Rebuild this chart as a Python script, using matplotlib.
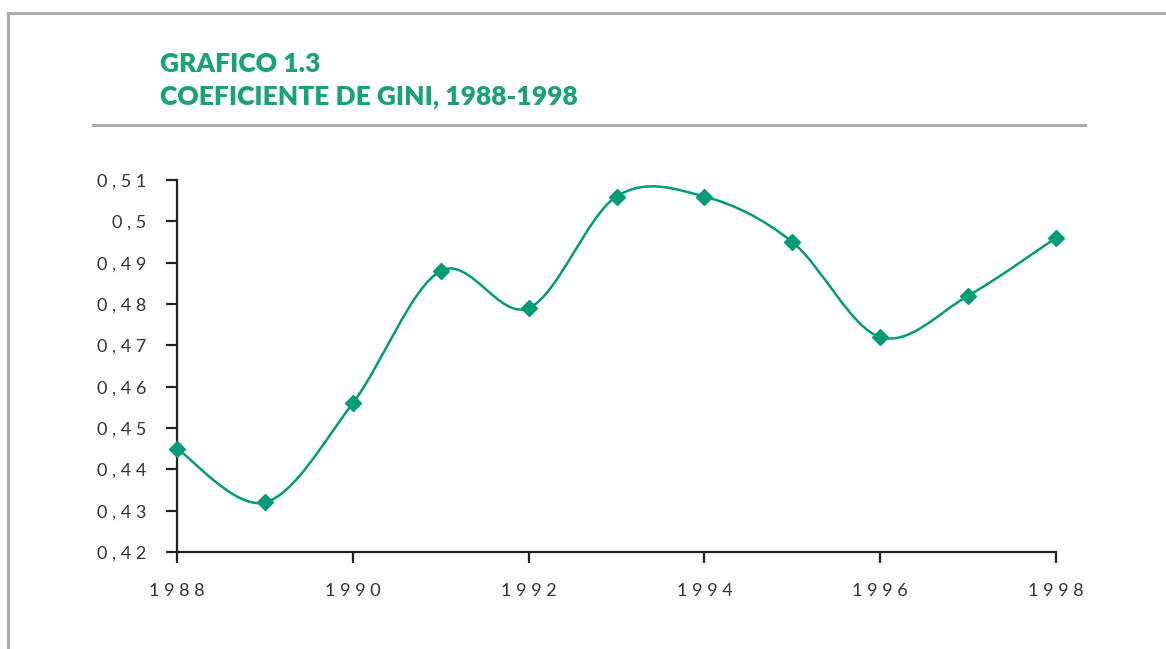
import matplotlib.pyplot as plt
from matplotlib.path import Path
from matplotlib.patches import PathPatch
from matplotlib.lines import Line2D
import numpy as np

years = [1988, 1989, 1990, 1991, 1992, 1993, 1994, 1995, 1996, 1997, 1998]
gini = [0.445, 0.432, 0.456, 0.488, 0.479, 0.506, 0.506, 0.495, 0.472, 0.482, 0.496]
x_ticks = [1988, 1990, 1992, 1994, 1996, 1998]
y_ticks = [0.42, 0.43, 0.44, 0.45, 0.46, 0.47, 0.48, 0.49, 0.50, 0.51]
y_labels = ["0,42", "0,43", "0,44", "0,45", "0,46", "0,47", "0,48", "0,49", "0,5", "0,51"]

title1 = "GRAFICO 1.3"
title2 = "COEFICIENTE DE GINI, 1988-1998"

GREEN = "#009b77"
TITLE_GREEN = "#18a472"
FRAME = "#ababab"


def spaced(s):
    # wide letter spacing as in the printed original
    return " ".join(s)


def smooth_path(xs, ys):
    # Excel-like smoothed line: cubic Bezier through every point
    pts = np.column_stack([xs, ys]).astype(float)
    n = len(pts)
    verts = [pts[0]]
    codes = [Path.MOVETO]
    for i in range(n - 1):
        p0 = pts[max(i - 1, 0)]
        p1 = pts[i]
        p2 = pts[i + 1]
        p3 = pts[min(i + 2, n - 1)]
        c1 = p1 + (p2 - p0) / 6.0
        c2 = p2 - (p3 - p1) / 6.0
        verts += [c1, c2, p2]
        codes += [Path.CURVE4] * 3
    return Path(verts, codes)


fig = plt.figure(figsize=(11.66, 6.49), dpi=100)

# outer frame (top and left edges)
fig.add_artist(Line2D([8 / 1166, 1], [1 - 13 / 649] * 2, color=FRAME, lw=2.2,
                      transform=fig.transFigure))
fig.add_artist(Line2D([8 / 1166] * 2, [0, 1 - 13 / 649], color=FRAME, lw=2.2,
                      transform=fig.transFigure))
# rule under the title
fig.add_artist(Line2D([93 / 1166, 1085 / 1166], [1 - 125 / 649] * 2, color=FRAME,
                      lw=2.2, transform=fig.transFigure))

fig.text(160 / 1166, 1 - 72 / 649, title1, color=TITLE_GREEN, fontsize=19,
         fontweight="heavy", family="Lato", va="baseline")
fig.text(160 / 1166, 1 - 105 / 649, title2, color=TITLE_GREEN, fontsize=19,
         fontweight="heavy", family="Lato", va="baseline")

left, right = 177 / 1166, 1056 / 1166
bottom, top = 1 - 552 / 649, 1 - 180 / 649
ax = fig.add_axes([left, bottom, right - left, top - bottom])
ax.set_xlim(1988, 1998)
ax.set_ylim(0.42, 0.51)

ax.add_patch(PathPatch(smooth_path(years, gini), facecolor="none",
                       edgecolor=GREEN, lw=1.8, clip_on=False))
ax.plot(years, gini, linestyle="none", marker="D", markersize=8.5,
        color=GREEN, clip_on=False, zorder=3)

for s in ["top", "right"]:
    ax.spines[s].set_visible(False)
for s in ["left", "bottom"]:
    ax.spines[s].set_color("#222222")
    ax.spines[s].set_linewidth(1.6)

ax.set_xticks(x_ticks)
ax.set_xticklabels([spaced(str(y)) for y in x_ticks])
ax.set_yticks(y_ticks)
ax.set_yticklabels([spaced(l) for l in y_labels])
ax.tick_params(axis="both", direction="out", length=8, width=1.6, color="#222222",
               labelsize=13, labelcolor="#333333")
ax.tick_params(axis="x", pad=14)
ax.tick_params(axis="y", pad=14)
for lab in ax.get_xticklabels() + ax.get_yticklabels():
    lab.set_family("Lato")

fig.savefig("out.png", dpi=100)
